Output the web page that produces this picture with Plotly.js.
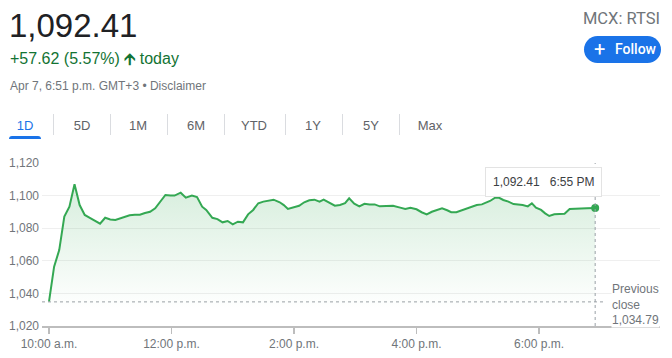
<!DOCTYPE html>
<html>
<head>
<meta charset="utf-8">
<script src="https://cdn.plot.ly/plotly-3.0.1.min.js"></script>
<style>
  html, body { margin:0; padding:0; background:#fff; }
  body { width:672px; height:358px; position:relative; overflow:hidden; font-family:"Liberation Sans", Arial, sans-serif; }
  #chart { position:absolute; left:0; top:0; width:672px; height:358px; }
  .abs { position:absolute; white-space:nowrap; z-index:5; }
  .tab { position:absolute; top:119px; font-size:13px; line-height:13px; color:#5f6368; transform:translateX(-50%); z-index:5; }
  .sep { position:absolute; top:114px; width:1px; height:21px; background:#dadce0; z-index:5; }
</style>
</head>
<body>
<div id="chart"></div>

<div class="abs" style="left:9px; top:9px; font-size:33px; line-height:33px; color:#202124;">1,092.41</div>
<div class="abs" style="left:10px; top:51px; font-size:16px; line-height:16px; color:#137333;">+57.62 (5.57%) <span style="font-weight:bold;">&#129129;</span> today</div>
<div class="abs" style="left:10px; top:80px; font-size:12px; line-height:12px; color:#70757a;">Apr 7, 6:51 p.m. GMT+3 • Disclaimer</div>

<div class="abs" style="right:12px; top:10px; font-family:Roboto, sans-serif; font-size:16.5px; line-height:17px; color:#70757a;">MCX: RTSI</div>
<div class="abs" style="left:584px; top:36px; width:77px; height:27px; border-radius:14px; background:#1a73e8; color:#fff; font-family:Roboto, sans-serif; font-weight:500; font-size:14px; line-height:27px;">
  <span style="position:absolute; left:10px; top:0; font-size:20px; font-weight:400;">+</span>
  <span style="position:absolute; left:31px; top:0;">Follow</span>
</div>

<div class="tab" style="left:25px; color:#1a73e8;">1D</div>
<div class="abs" style="left:9px; top:136px; width:32px; height:3px; background:#1a73e8; border-radius:3px 3px 0 0;"></div>
<div class="sep" style="left:53px;"></div>
<div class="tab" style="left:82px;">5D</div>
<div class="sep" style="left:110px;"></div>
<div class="tab" style="left:138px;">1M</div>
<div class="sep" style="left:167px;"></div>
<div class="tab" style="left:196px;">6M</div>
<div class="sep" style="left:224px;"></div>
<div class="tab" style="left:254px;">YTD</div>
<div class="sep" style="left:285px;"></div>
<div class="tab" style="left:313px;">1Y</div>
<div class="sep" style="left:342px;"></div>
<div class="tab" style="left:371px;">5Y</div>
<div class="sep" style="left:399px;"></div>
<div class="tab" style="left:430px;">Max</div>

<script>
const day = '2023-04-07 ';
const times = [
 '10:00','10:05','10:10','10:15','10:20','10:25','10:30','10:35','10:40','10:45',
 '10:50','10:55','11:00','11:05','11:10','11:14','11:19','11:24','11:29','11:34',
 '11:39','11:44','11:49','11:54','11:59','12:03','12:09','12:14','12:20','12:25',
 '12:30','12:34','12:40','12:45','12:50','12:55','13:00','13:05','13:10','13:15',
 '13:20','13:25','13:30','13:36','13:40','13:46','13:50','13:54','13:59','14:05',
 '14:10','14:15','14:20','14:25','14:29','14:35','14:40','14:45','14:50','14:54',
 '14:59','15:04','15:09','15:14','15:19','15:24','15:31','15:37','15:44','15:49',
 '15:54','16:00','16:05','16:10','16:15','16:20','16:25','16:30','16:34','16:39',
 '16:44','16:49','16:54','16:59','17:04','17:09','17:12','17:17','17:20','17:25',
 '17:30','17:35','17:40','17:44','17:49','17:53','17:57','18:02','18:06','18:10',
 '18:15','18:21','18:25','18:30','18:35','18:40','18:47','18:55'
];
const prices = [
 1035.0, 1056.4, 1066.6, 1087.1, 1093.2, 1107.0, 1094.2, 1088.1, 1086.4, 1084.4,
 1082.8, 1086.4, 1085.4, 1085.0, 1086.1, 1086.9, 1087.9, 1088.3, 1088.3, 1089.3,
 1090.1, 1092.2, 1096.3, 1100.4, 1100.0, 1100.0, 1101.8, 1098.7, 1100.0, 1099.1,
 1093.2, 1091.2, 1086.4, 1085.6, 1083.6, 1084.4, 1082.4, 1084.0, 1083.6, 1088.5,
 1091.2, 1095.3, 1096.3, 1097.1, 1097.5, 1095.9, 1094.2, 1091.8, 1092.6, 1093.8,
 1095.9, 1097.1, 1097.5, 1096.3, 1097.5, 1095.5, 1093.8, 1094.2, 1095.3, 1098.3,
 1095.0, 1093.4, 1095.0, 1094.6, 1094.6, 1093.4, 1093.8, 1093.8, 1092.6, 1091.8,
 1092.6, 1091.6, 1089.8, 1088.5, 1090.1, 1091.4, 1092.2, 1091.0, 1089.8, 1089.8,
 1091.0, 1092.2, 1093.4, 1094.2, 1094.6, 1095.9, 1096.7, 1098.7, 1098.9, 1097.3,
 1096.3, 1094.8, 1094.6, 1094.2, 1093.4, 1095.3, 1092.6, 1091.2, 1089.1, 1087.5,
 1088.5, 1088.7, 1088.9, 1091.8, 1091.8, 1092.0, 1092.2, 1092.41
];
const previousClose = 1034.79;
const lastPrice = 1092.41;
const lastTime = '18:55';
const lastTimeLabel = '6:55 PM';
const xTickTimes = ['10:00','12:00','14:00','16:00','18:00'];
const xTickText = ['10:00 a.m.','12:00 p.m.','2:00 p.m.','4:00 p.m.','6:00 p.m.'];
const yTicks = [1020, 1040, 1060, 1080, 1100, 1120];

const xs = times.map(t => day + t);
const fmt = v => v.toLocaleString('en-US', {minimumFractionDigits: 2, maximumFractionDigits: 2});

const green = '#34a853';
const traces = [
  {
    x: xs, y: prices, type: 'scatter', mode: 'lines',
    line: {color: green, width: 2},
    fill: 'tozeroy',
    fillgradient: {type: 'vertical', start: 1030, stop: 1107,
      colorscale: [[0, 'rgba(52,168,83,0)'], [1, 'rgba(52,168,83,0.2)']]},
    hoverinfo: 'skip'
  },
  {
    x: [day + lastTime], y: [lastPrice], type: 'scatter', mode: 'markers',
    marker: {color: green, size: 8}, hoverinfo: 'skip'
  }
];

const gray = '#70757a';
const layout = {
  width: 672, height: 358,
  margin: {l: 42, r: 12, t: 163, b: 32},
  paper_bgcolor: '#fff', plot_bgcolor: '#fff',
  showlegend: false,
  font: {family: '"Liberation Sans", Arial, sans-serif', size: 12, color: gray},
  xaxis: {
    type: 'date',
    range: [day + '09:53:08', day + '19:58:30'],
    tickvals: xTickTimes.map(t => day + t),
    ticktext: xTickText,
    showgrid: false, zeroline: false,
    showline: true, linecolor: '#bdbdbd', linewidth: 2,
    ticks: 'outside', ticklen: 6, tickwidth: 1.5, tickcolor: '#bdbdbd',
    tickfont: {size: 12, color: gray}
  },
  yaxis: {
    range: [1020, 1120],
    tickvals: yTicks, tickformat: ',',
    showgrid: true, gridcolor: '#efefef', gridwidth: 1,
    zeroline: false, showline: false, ticks: '',
    ticklabelstandoff: 2,
    tickfont: {size: 12, color: gray}
  },
  shapes: [
    {type: 'line', xref: 'paper', yref: 'y', x0: 0, x1: 0.911, y0: previousClose, y1: previousClose,
     line: {color: '#9aa0a6', width: 1, dash: 'dot'}},
    {type: 'line', xref: 'x', yref: 'paper', x0: day + lastTime, x1: day + lastTime, y0: 0, y1: 1,
     line: {color: '#9aa0a6', width: 1, dash: 'dot'}}
  ],
  annotations: [
    {xref: 'paper', yref: 'y', x: 0.921, y: 1033.5, xanchor: 'left', yanchor: 'middle',
     text: 'Previous<br>close<br>' + fmt(previousClose), align: 'left', showarrow: false,
     font: {size: 12, color: gray}, bgcolor: '#fff', borderpad: 0},
    {xref: 'paper', yref: 'paper', x: 0.812, y: 0.883, xanchor: 'center', yanchor: 'middle',
     text: fmt(lastPrice) + '&nbsp;&nbsp;&nbsp;' + lastTimeLabel, showarrow: false,
     font: {size: 12, color: '#3c4043'}, bgcolor: '#fff', bordercolor: '#e3e3e3', borderwidth: 1, borderpad: 7}
  ]
};

Plotly.newPlot('chart', traces, layout, {staticPlot: true, displayModeBar: false});
</script>
</body>
</html>
